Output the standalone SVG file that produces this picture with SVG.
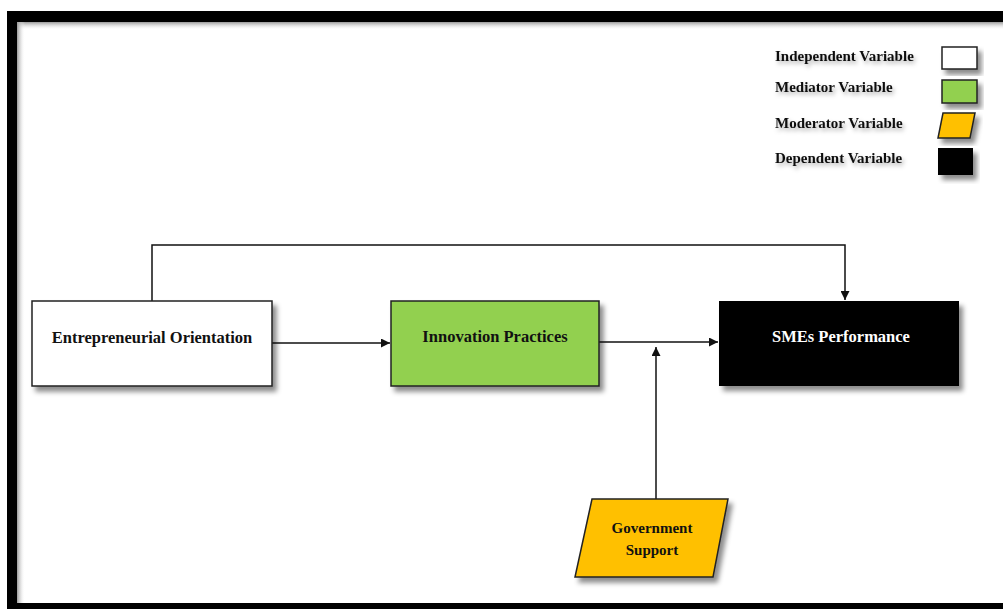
<svg xmlns="http://www.w3.org/2000/svg" width="1003" height="609" viewBox="0 0 1003 609">
<style>
.lbl{font-family:"Liberation Serif","Times New Roman",serif;font-weight:bold;font-size:16.5px;text-anchor:middle;dominant-baseline:central;fill:#111}
.leg{font-family:"Liberation Serif","Times New Roman",serif;font-weight:bold;font-size:15px;fill:#111}
.box{stroke:#222;stroke-width:1.5}
.conn{fill:none;stroke:#111;stroke-width:1.5}
</style>
<defs>
<filter id="sh" x="-10%" y="-10%" width="130%" height="140%">
<feDropShadow dx="4" dy="5" stdDeviation="2.5" flood-color="#000" flood-opacity="0.45"/>
</filter>
<filter id="tsh" x="-10%" y="-30%" width="130%" height="180%">
<feDropShadow dx="2" dy="3" stdDeviation="2" flood-color="#000" flood-opacity="0.3"/>
</filter>
<marker id="arr" viewBox="0 0 10 10" refX="10" refY="5" markerWidth="10" markerHeight="9" markerUnits="userSpaceOnUse" orient="auto">
<path d="M0,0 L10,5 L0,10 z" fill="#111"/>
</marker>
<linearGradient id="gt" x1="0" y1="0" x2="0" y2="1">
<stop offset="0" stop-color="#999"/><stop offset="1" stop-color="#fff" stop-opacity="0"/>
</linearGradient>
<linearGradient id="gl" x1="0" y1="0" x2="1" y2="0">
<stop offset="0" stop-color="#999"/><stop offset="1" stop-color="#fff" stop-opacity="0"/>
</linearGradient>
</defs>
<rect x="0" y="0" width="1003" height="609" fill="#fff"/>
<g id="frame">
<rect x="7" y="11" width="1010" height="600" fill="#000"/>
<rect x="17" y="22" width="1000" height="581" fill="#fff"/>
<rect x="17" y="22" width="1000" height="8" fill="url(#gt)"/>
<rect x="17" y="22" width="8" height="581" fill="url(#gl)"/>
</g>
<g id="legend">
<text class="leg" x="775" y="61" filter="url(#tsh)">Independent Variable</text>
<text class="leg" x="775" y="92" filter="url(#tsh)">Mediator Variable</text>
<text class="leg" x="775" y="128" filter="url(#tsh)">Moderator Variable</text>
<text class="leg" x="775" y="163" filter="url(#tsh)">Dependent Variable</text>
<rect class="box" x="942" y="47" width="35" height="22" fill="#fff" filter="url(#sh)"/>
<rect class="box" x="942" y="80" width="35" height="23" fill="#92D050" filter="url(#sh)"/>
<polygon class="box" points="943,113 975,113 970,138 938,138" fill="#FFC000" filter="url(#sh)"/>
<rect x="938" y="148" width="35" height="27" fill="#000" filter="url(#sh)"/>
</g>
<g id="connectors">
<line class="conn" x1="272" y1="343" x2="390" y2="343" marker-end="url(#arr)"/>
<line class="conn" x1="599" y1="342" x2="718" y2="342" marker-end="url(#arr)"/>
<line class="conn" x1="656" y1="499" x2="656" y2="347" marker-end="url(#arr)"/>
<polyline class="conn" points="152,301 152,245 845,245 845,300" marker-end="url(#arr)"/>
</g>
<g id="entrepreneurial-orientation">
<rect class="box" x="32" y="301" width="240" height="85" fill="#fff" filter="url(#sh)"/>
<text class="lbl" x="152" y="337">Entrepreneurial Orientation</text>
</g>
<g id="innovation-practices">
<rect class="box" x="391" y="301" width="208" height="85" fill="#92D050" filter="url(#sh)"/>
<text class="lbl" x="495" y="336">Innovation Practices</text>
</g>
<g id="smes-performance">
<rect x="719" y="301" width="240" height="85" fill="#000" filter="url(#sh)"/>
<text class="lbl" x="841" y="336" style="fill:#fff">SMEs Performance</text>
</g>
<g id="government-support">
<polygon class="box" points="592,499 728,499 713,577 575,577" fill="#FFC000" filter="url(#sh)"/>
<text class="lbl" x="652" y="528" style="font-size:15px">Government</text>
<text class="lbl" x="652" y="550" style="font-size:15px">Support</text>
</g>
</svg>
